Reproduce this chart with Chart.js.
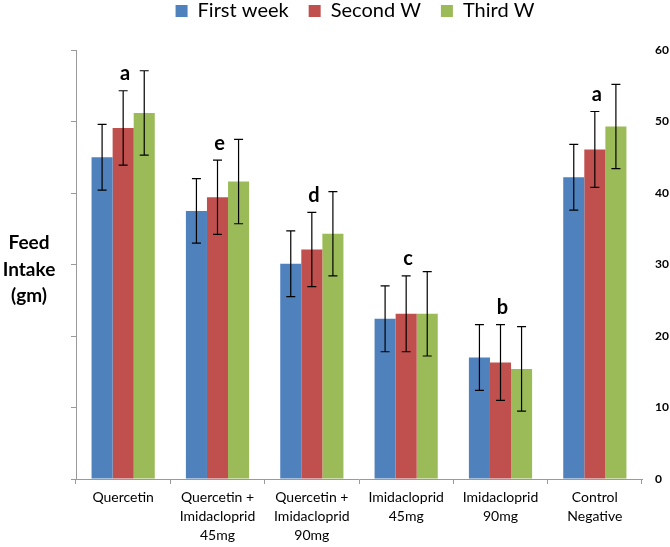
<html>
<head>
<style>
  body { margin: 0; background: #fff; }
  #wrap { width: 670px; height: 547px; position: relative; }
</style>
</head>
<body>
<script src="https://cdnjs.cloudflare.com/ajax/libs/Chart.js/4.4.1/chart.umd.min.js"></script>
<div id="wrap"><canvas id="myChart"></canvas></div>
<script>
// categories and values
const groups = [
  ['Quercetin'],
  ['Quercetin +', 'Imidacloprid', '45mg'],
  ['Quercetin +', 'Imidacloprid', '90mg'],
  ['Imidacloprid', '45mg'],
  ['Imidacloprid', '90mg'],
  ['Control', 'Negative']
];
const firstWeek = [45.0, 37.5, 30.1, 22.4, 17.0, 42.2];
const secondW   = [49.1, 39.4, 32.1, 23.1, 16.3, 46.1];
const thirdW    = [51.2, 41.6, 34.3, 23.1, 15.4, 49.3];
const errFirst  = [4.6, 4.5, 4.6, 4.6, 4.6, 4.6];
const errSecond = [5.2, 5.2, 5.2, 5.3, 5.3, 5.3];
const errThird  = [5.9, 5.9, 5.9, 5.9, 5.9, 5.9];
const letters   = ['a', 'e', 'd', 'c', 'b', 'a'];
const yTitle    = ['Feed', 'Intake', '(gm)'];

const errs = [errFirst, errSecond, errThird];
const axisGrey = '#9a9a9a';
const font = 'Lato';

// error bars, significance letters and the y title
const extras = {
  id: 'extras',
  afterLayout(chart) {
    // move the legend up and a bit to the right
    const lg = chart.legend;
    lg.top -= 19; lg.bottom -= 19;
    lg.left += 20; lg.right += 20;
    lg.adjustHitBoxes();
  },
  afterDatasetsDraw(chart) {
    const ctx = chart.ctx;
    const y = chart.scales.y;
    ctx.save();
    ctx.strokeStyle = '#000';
    ctx.lineWidth = 1.2;
    chart.data.datasets.forEach((ds, i) => {
      const meta = chart.getDatasetMeta(i);
      meta.data.forEach((bar, j) => {
        const v = ds.data[j], e = errs[i][j];
        const t = y.getPixelForValue(v + e), b = y.getPixelForValue(v - e);
        ctx.beginPath();
        ctx.moveTo(bar.x, t); ctx.lineTo(bar.x, b);
        ctx.moveTo(bar.x - 4.5, t); ctx.lineTo(bar.x + 4.5, t);
        ctx.moveTo(bar.x - 4.5, b); ctx.lineTo(bar.x + 4.5, b);
        ctx.stroke();
      });
    });
    // letters above the middle bar
    const mid = chart.getDatasetMeta(1);
    ctx.fillStyle = '#000';
    ctx.font = 'bold 20px ' + font;
    ctx.textAlign = 'center';
    ctx.textBaseline = 'middle';
    letters.forEach((l, j) => {
      const top = y.getPixelForValue(secondW[j] + errSecond[j]);
      ctx.fillText(l, mid.data[j].x + 2, top - 17);
    });
    // y title, horizontal, three lines
    ctx.font = 'bold 19px ' + font;
    yTitle.forEach((s, k) => ctx.fillText(s, 29, 243 + k * 26.5));
    ctx.restore();
  }
};

const ctx = document.getElementById('myChart').getContext('2d');
const myChart = new Chart(ctx, {
  type: 'bar',
  data: {
    labels: groups,
    datasets: [
      { label: 'First week', data: firstWeek, backgroundColor: '#4F81BD' },
      { label: 'Second W', data: secondW, backgroundColor: '#C0504D' },
      { label: 'Third W', data: thirdW, backgroundColor: '#9BBB59' }
    ]
  },
  options: {
    responsive: true,
    maintainAspectRatio: false,
    animation: false,
    categoryPercentage: 0.67,
    barPercentage: 1.0,
    layout: { padding: 0 },
    plugins: {
      legend: {
        position: 'top',
        maxHeight: 52,
        labels: {
          boxWidth: 12, boxHeight: 12, padding: 20,
          color: '#000',
          font: { family: font, size: 20 }
        }
      },
      tooltip: { enabled: false }
    },
    scales: {
      x: {
        grid: { drawOnChartArea: false, tickLength: 5, color: axisGrey },
        border: { color: axisGrey },
        ticks: {
          color: '#000', padding: 4, maxRotation: 0, autoSkip: false,
          font: { family: font, size: 14, lineHeight: 1.35 }
        },
        afterFit: s => { s.height = 68; }
      },
      y: {
        position: 'left',
        min: 0, max: 60,
        ticks: { stepSize: 10, display: false },
        grid: { drawOnChartArea: false, tickLength: 5, color: axisGrey },
        border: { color: axisGrey },
        afterFit: s => { s.width = 76; }
      },
      y1: {
        position: 'right',
        min: 0, max: 60,
        ticks: { stepSize: 10, color: '#000', padding: 13, font: { family: font, size: 12, weight: 'bold' } },
        grid: { display: false, drawTicks: false },
        border: { display: false },
        afterFit: s => { s.width = 28; }
      }
    }
  },
  plugins: [extras]
});
</script>
</body>
</html>
